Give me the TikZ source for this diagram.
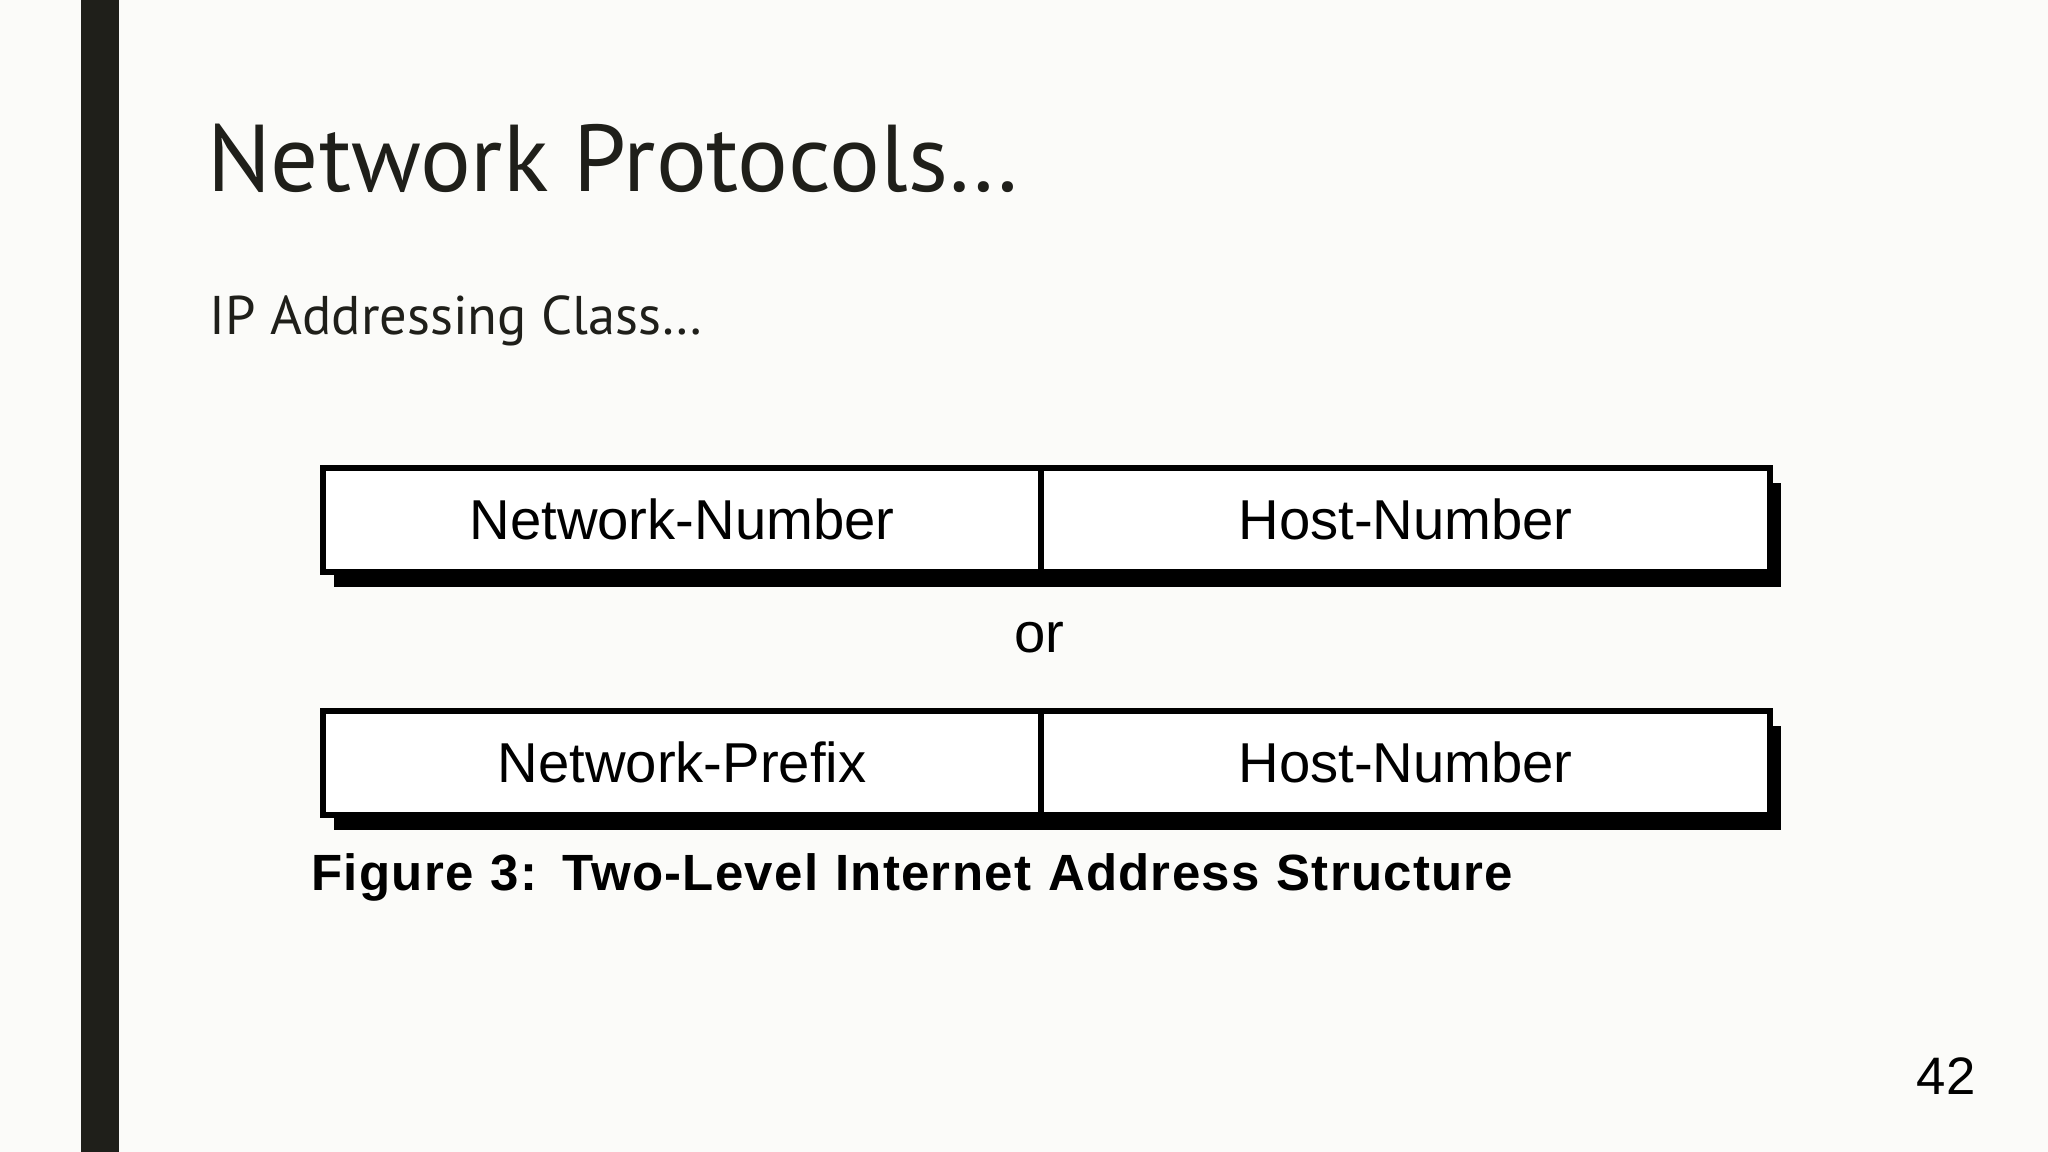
\documentclass[tikz,border=0pt]{standalone}
\usepackage{fontspec}
\setmainfont{Liberation Sans}
\newfontfamily\slidefont{PT Sans}
\usetikzlibrary{shadows}
\definecolor{slidebg}{HTML}{FBFBF9}
\definecolor{barcol}{HTML}{1F1F1A}
\tikzset{
   field/.style={draw=black, fill=white, line width=1.6pt, minimum height=1.04cm,
                 inner sep=0pt, font=\fontsize{16}{19}\selectfont,
                 drop shadow={shadow xshift=0.11cm, shadow yshift=-0.15cm, opacity=1, fill=black}},
}
\begin{document}
\begin{tikzpicture}[x=0.013061cm, y=-0.013061cm]
\useasboundingbox (0,0) rectangle (1568,882);
\fill[slidebg] (0,0) rectangle (1568,882);
\fill[barcol] (62,0) rectangle (91,882);
%
\node[anchor=base west, inner sep=0pt, font=\slidefont\fontsize{27}{32}\selectfont, text=barcol] (title) at (158,147) {Network Protocols\dots};
\node[anchor=base west, inner sep=0pt, font=\slidefont\fontsize{15.5}{18}\selectfont, text=barcol] (sub) at (160,256) {IP Addressing Class\dots};
%
\node[field, minimum width=550*0.013061cm, anchor=north west] (nn) at (245,356) {Network-Number};
\node[field, minimum width=558*0.013061cm, anchor=north west] (hn1) at (795,356) {Host-Number};
\node[font=\fontsize{16}{19}\selectfont] (or) at (796,488) {or};
\node[field, minimum width=550*0.013061cm, anchor=north west] (np) at (245,542) {Network-Prefix};
\node[field, minimum width=558*0.013061cm, anchor=north west] (hn2) at (795,542) {Host-Number};
%
\node[anchor=base west, inner sep=0pt, font=\fontsize{14.5}{17}\selectfont\bfseries\addfontfeature{LetterSpace=2.5}] (cap) at (238,682)
  {Figure\,\,3:\,\,\,Two-Level\,\,Internet\,\,Address\,\,Structure};
\node[anchor=base east, inner sep=0pt, font=\fontsize{15}{18}\selectfont] (page) at (1513,838) {42};
\end{tikzpicture}
\end{document}
